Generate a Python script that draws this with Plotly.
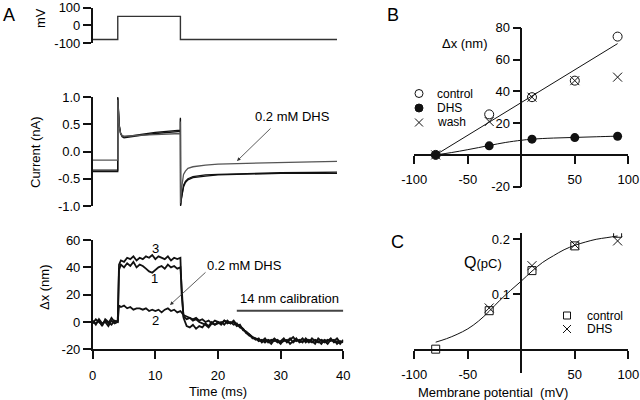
import plotly.graph_objects as go

W, H = 640, 400
FONT = "Liberation Sans, Arial, sans-serif"

# ---------------- Panel A data ----------------
V_T = [0, 4, 4, 14, 14, 39]
V_MV = [-80, -80, 50, 50, -80, -80]

I_T = [0, 4.0, 4.0, 4.1, 4.25, 4.45, 4.7, 5.0, 6, 8, 10, 12, 14.0, 14.0, 14.03, 14.15,
       14.3, 14.5, 14.8, 15.2, 16, 17, 18, 20, 23, 26, 30, 35, 39]
I_CONTROL = [-0.34, -0.34, 1.0, 0.72, 0.48, 0.34, 0.29, 0.27, 0.29, 0.32, 0.35, 0.37, 0.39, 0.62,
             -1.0, -0.86, -0.72, -0.62, -0.55, -0.5, -0.46, -0.44, -0.43, -0.42, -0.41, -0.40,
             -0.39, -0.385, -0.38]
I_DHS = [-0.16, -0.16, 0.95, 0.68, 0.45, 0.33, 0.29, 0.28, 0.29, 0.30, 0.31, 0.32, 0.33, 0.55,
         -0.95, -0.7, -0.52, -0.42, -0.36, -0.31, -0.28, -0.26, -0.25, -0.23, -0.22, -0.21,
         -0.20, -0.19, -0.18]
I_WASH = [-0.37, -0.37, 0.98, 0.7, 0.46, 0.33, 0.27, 0.25, 0.27, 0.30, 0.33, 0.35, 0.37, 0.6,
          -0.98, -0.88, -0.75, -0.65, -0.57, -0.52, -0.48, -0.46, -0.45, -0.43, -0.42, -0.41,
          -0.40, -0.40, -0.40]

DX_T = [0, 0.5, 1, 1.5, 2, 2.5, 3, 3.5, 4, 4.2, 4.5, 5, 5.5, 6, 6.5, 7, 7.5, 8, 8.5, 9, 9.5,
        10, 10.5, 11, 11.5, 12, 12.5, 13, 13.5, 14, 14.2, 14.5, 15, 15.5, 16, 16.5, 17, 17.5,
        18, 18.5, 19, 19.5, 20, 20.5, 21, 21.5, 22, 22.5, 23, 23.5, 24, 24.5, 25, 25.5, 26,
        26.5, 27, 27.5, 28, 28.5, 29, 29.5, 30, 30.5, 31, 31.5, 32, 32.5, 33, 33.5, 34, 34.5,
        35, 35.5, 36, 36.5, 37, 37.5, 38, 38.5, 39, 39.5, 40]
DX_3 = ([1, -2, 2, -1, 0, -3, 1, -1, 0] + [42, 45] +
        [44, 47, 46, 48, 45, 47, 46, 48, 47, 49, 46, 48, 47, 46, 48, 45, 47, 46, 47] + [20, 4] +
        [2, 3, 1, 2, 0, -1, -2, -4, -1, -2, 0, -2, 1, -1, 0, -2, -1, -4, -5, -8, -10, -11, -13,
         -12, -15, -13, -14, -16, -13, -15, -14, -12, -15, -13, -11, -14, -13, -15, -12, -14,
         -15, -13, -14, -16, -13, -14, -12, -15, -14, -16, -13])
DX_1 = ([-1, 2, 0, -2, 1, -1, 3, 0, 1] + [38, 42] +
        [40, 43, 41, 44, 40, 42, 41, 39, 37, 36, 38, 40, 41, 39, 42, 40, 41, 39, 40] + [25, 3] +
        [-3, -4, -2, -5, -3, -4, -1, -3, 0, -2, -1, 0, -2, 1, -1, 0, -3, -2, -6, -7, -9, -12,
         -12, -14, -13, -15, -13, -14, -12, -14, -16, -13, -14, -12, -15, -13, -14, -12, -15,
         -13, -14, -16, -12, -14, -15, -13, -14, -13, -16, -14, -15])
DX_2 = ([0, -1, 1, -3, 2, 0, -2, 1, 0] + [12, 11] +
        [12, 10, 11, 9, 10, 10, 9, 10, 8, 9, 8, 9, 7, 9, 10, 8, 9, 7, 8] + [7, 5] +
        [4, 3, 2, 3, 1, 2, 0, 1, -1, 1, 0, -1, 1, 0, -1, 1, -2, -3, -5, -8, -9, -11, -12, -13,
         -14, -12, -15, -13, -14, -13, -15, -14, -13, -16, -14, -12, -15, -14, -13, -15, -12,
         -14, -15, -13, -14, -16, -13, -14, -12, -15, -14])

# ---------------- Panel B data ----------------
VM = [-80, -30, 10, 50, 90]
B_CONTROL = [0, 25.5, 36.3, 46.7, 74.4]
B_DHS = [0, 5.7, 9.9, 10.9, 11.7]
B_WASH = [0, 21, 36.3, 46.7, 48.9]
B_FIT_CTRL_V = [-80, 90]
B_FIT_CTRL = [0, 70]
B_FIT_DHS_V = [-80, -65, -50, -30, -15, 0, 10, 30, 50, 70, 90]
B_FIT_DHS = [0, 1.5, 3.3, 5.9, 7.8, 9.2, 9.9, 10.6, 11.0, 11.4, 11.8]

# ---------------- Panel C data ----------------
C_CONTROL = [0.0, 0.070, 0.143, 0.188, 0.211]
C_DHS_V = [-30, 10, 50, 90]
C_DHS = [0.075, 0.152, 0.190, 0.197]
C_FIT_V = [-80, -70, -60, -50, -40, -30, -20, -10, 0, 10, 20, 30, 40, 50, 60, 70, 80, 90]
C_FIT = [0.0127, 0.019, 0.027, 0.037, 0.051, 0.069, 0.089, 0.107, 0.124, 0.142, 0.158, 0.170,
         0.181, 0.189, 0.195, 0.200, 0.203, 0.206]


def px(x):
    return x / W


def py(y):
    return 1 - y / H


fig = go.Figure()
K = "#111111"

# Panel A traces
fig.add_trace(go.Scatter(x=V_T, y=V_MV, mode="lines", line=dict(color="#333", width=1.4),
                         xaxis="x", yaxis="y"))
for ys, col in [(I_CONTROL, K), (I_WASH, K), (I_DHS, "#555")]:
    fig.add_trace(go.Scatter(x=I_T, y=ys, mode="lines", line=dict(color=col, width=1.3),
                             xaxis="x2", yaxis="y2"))
for ys in [DX_2, DX_1, DX_3]:
    fig.add_trace(go.Scatter(x=DX_T, y=ys, mode="lines", line=dict(color=K, width=1.8),
                             xaxis="x3", yaxis="y3"))

# Panel B traces
fig.add_trace(go.Scatter(x=B_FIT_CTRL_V, y=B_FIT_CTRL, mode="lines", line=dict(color=K, width=1),
                         xaxis="x4", yaxis="y4"))
fig.add_trace(go.Scatter(x=B_FIT_DHS_V, y=B_FIT_DHS, mode="lines", line=dict(color=K, width=1, shape="spline"),
                         xaxis="x4", yaxis="y4"))
fig.add_trace(go.Scatter(x=VM, y=B_CONTROL, mode="markers",
                         marker=dict(symbol="circle-open", size=9, color=K, line=dict(width=1)),
                         xaxis="x4", yaxis="y4"))
fig.add_trace(go.Scatter(x=VM, y=B_DHS, mode="markers",
                         marker=dict(symbol="circle", size=9, color=K),
                         xaxis="x4", yaxis="y4"))
fig.add_trace(go.Scatter(x=VM, y=B_WASH, mode="markers",
                         marker=dict(symbol="x-thin-open", size=9, color=K, line=dict(width=1, color=K)),
                         xaxis="x4", yaxis="y4"))

# Panel C traces
fig.add_trace(go.Scatter(x=C_FIT_V, y=C_FIT, mode="lines", line=dict(color=K, width=1, shape="spline"),
                         xaxis="x5", yaxis="y5"))
fig.add_trace(go.Scatter(x=VM, y=C_CONTROL, mode="markers",
                         marker=dict(symbol="square-open", size=8, color=K, line=dict(width=1)),
                         xaxis="x5", yaxis="y5"))
fig.add_trace(go.Scatter(x=C_DHS_V, y=C_DHS, mode="markers",
                         marker=dict(symbol="x-thin-open", size=9, color=K, line=dict(width=1, color=K)),
                         xaxis="x5", yaxis="y5"))

tickfont = dict(family=FONT, size=13, color="black")
common_y = dict(showline=True, linecolor=K, linewidth=1.5, ticks="outside", ticklen=8,
                tickwidth=1.5, tickcolor=K, showgrid=False, zeroline=False, tickfont=tickfont,
                fixedrange=True, automargin=False)
common_x = dict(showline=True, linecolor=K, linewidth=1.5, ticks="outside", ticklen=8,
                tickwidth=1.5, tickcolor=K, showgrid=False, zeroline=False, tickfont=tickfont,
                fixedrange=True, automargin=False, ticklabelstandoff=5)
hidden_x = dict(visible=False, fixedrange=True, automargin=False)

AX0, AX1 = px(92.7), px(343.3)
BX0, BX1 = px(414.3), px(628.3)

fig.update_layout(
    template="none",
    width=W, height=H, margin=dict(l=0, r=0, t=0, b=0, pad=0), autosize=False,
    paper_bgcolor="white", plot_bgcolor="rgba(0,0,0,0)", showlegend=False,
    font=dict(family=FONT, size=13, color="black"),
    xaxis=dict(domain=[AX0, AX1], range=[0, 40], anchor="y", **hidden_x),
    yaxis=dict(domain=[py(43), py(7.5)], range=[-100, 100], anchor="x",
               tickvals=[-100, 0, 100], ticktext=["-100", "0", "100"], **common_y),
    xaxis2=dict(domain=[AX0, AX1], range=[0, 40], anchor="y2", **hidden_x),
    yaxis2=dict(domain=[py(206), py(97)], range=[-1, 1], anchor="x2",
                tickvals=[-1, -0.5, 0, 0.5, 1], ticktext=["-1.0", "-0.5", "0.0", "0.5", "1.0"], **common_y),
    xaxis3=dict(domain=[AX0, AX1], range=[0, 40], anchor="y3",
                tickvals=[0, 10, 20, 30, 40], ticktext=["0", "10", "20", "30", "40"], **common_x),
    yaxis3=dict(domain=[py(349.3), py(240)], range=[-20, 60], anchor="x3",
                tickvals=[-20, 0, 20, 40, 60], ticktext=["-20", "0", "20", "40", "60"], **common_y),
    xaxis4=dict(domain=[BX0, BX1], range=[-100, 100], anchor="free", position=py(155),
                tickvals=[-100, -50, 50, 100], ticktext=["-100", "-50", "50", "100"], **common_x),
    yaxis4=dict(domain=[py(186.7), py(27.7)], range=[-20, 80], anchor="free", position=px(521.3),
                tickvals=[-20, 20, 40, 60, 80], ticktext=["-20", "20", "40", "60", "80"], **common_y),
    xaxis5=dict(domain=[BX0, BX1], range=[-100, 100], anchor="free", position=py(350),
                tickvals=[-100, -50, 50, 100], ticktext=["-100", "-50", "50", "100"], **common_x),
    yaxis5=dict(domain=[py(373), py(233.3)], range=[-0.0434, 0.2109], anchor="free", position=px(521.3),
                tickvals=[0.1, 0.2], ticktext=["0.1", "0.2"], **common_y),
)

ann = []


def text(x, y, s, size=13, angle=0, xanchor="center"):
    ann.append(dict(x=px(x), y=py(y), xref="paper", yref="paper", text=s, showarrow=False,
                    font=dict(family=FONT, size=size, color="black"), textangle=angle,
                    xanchor=xanchor, yanchor="middle"))


def arrow(x0, y0, x1, y1):
    ann.append(dict(x=px(x1), y=py(y1), xref="paper", yref="paper", text="", showarrow=True,
                    ax=x0 - x1, ay=y0 - y1, arrowhead=2, arrowsize=0.9, arrowwidth=0.8,
                    arrowcolor="#333"))


text(9, 15, "A", 18)
text(393, 15, "B", 18)
text(397, 242, "C", 18)
text(40, 18, "mV", 13, -90)
text(35, 152, "Current (nA)", 13, -90)
text(44, 287, "Δx (nm)", 13, -90)
text(218, 391, "Time (ms)")
text(292, 116, "0.2 mM DHS")
arrow(272, 127, 237, 161)
text(244, 265, "0.2 mM DHS")
arrow(207, 271, 170, 305)
text(155, 248, "3")
text(154, 278, "1")
text(155, 320, "2")
text(289, 298, "14 nm calibration")
text(465, 44, "Δx (nm)")
text(435, 94, "control", 12, xanchor="left")
text(435, 108, "DHS", 12, xanchor="left")
text(435, 122, "wash", 12, xanchor="left")
text(483, 262, "<span style='font-size:16px'>Q</span>(pC)", 13)
text(585, 316, "control", 12, xanchor="left")
text(585, 329, "DHS", 12, xanchor="left")
text(493, 392, "Membrane potential  (mV)")
fig.update_layout(annotations=ann)

shapes = [
    # calibration bar
    dict(type="line", xref="x3", yref="y3", x0=23, x1=40, y0=8.3, y1=8.3,
         line=dict(color="#444", width=2)),
    # legend B
    dict(type="circle", xref="paper", yref="paper", x0=px(415), x1=px(423), y0=py(97.5), y1=py(89.5),
         line=dict(color=K, width=1)),
    dict(type="circle", xref="paper", yref="paper", x0=px(415), x1=px(423), y0=py(112), y1=py(104),
         line=dict(color=K, width=1), fillcolor=K),
    dict(type="line", xref="paper", yref="paper", x0=px(415), x1=px(423), y0=py(118.5), y1=py(126.5),
         line=dict(color=K, width=1)),
    dict(type="line", xref="paper", yref="paper", x0=px(415), x1=px(423), y0=py(126.5), y1=py(118.5),
         line=dict(color=K, width=1)),
    # legend C
    dict(type="rect", xref="paper", yref="paper", x0=px(563.5), x1=px(570.5), y0=py(319), y1=py(312),
         line=dict(color=K, width=1)),
    dict(type="line", xref="paper", yref="paper", x0=px(563), x1=px(571), y0=py(325), y1=py(333),
         line=dict(color=K, width=1)),
    dict(type="line", xref="paper", yref="paper", x0=px(563), x1=px(571), y0=py(333), y1=py(325),
         line=dict(color=K, width=1)),
]
fig.update_layout(shapes=shapes)

fig.write_html("out.html", config={"displayModeBar": False},
               post_script="document.body.style.margin='0';document.body.style.overflow='hidden';")
